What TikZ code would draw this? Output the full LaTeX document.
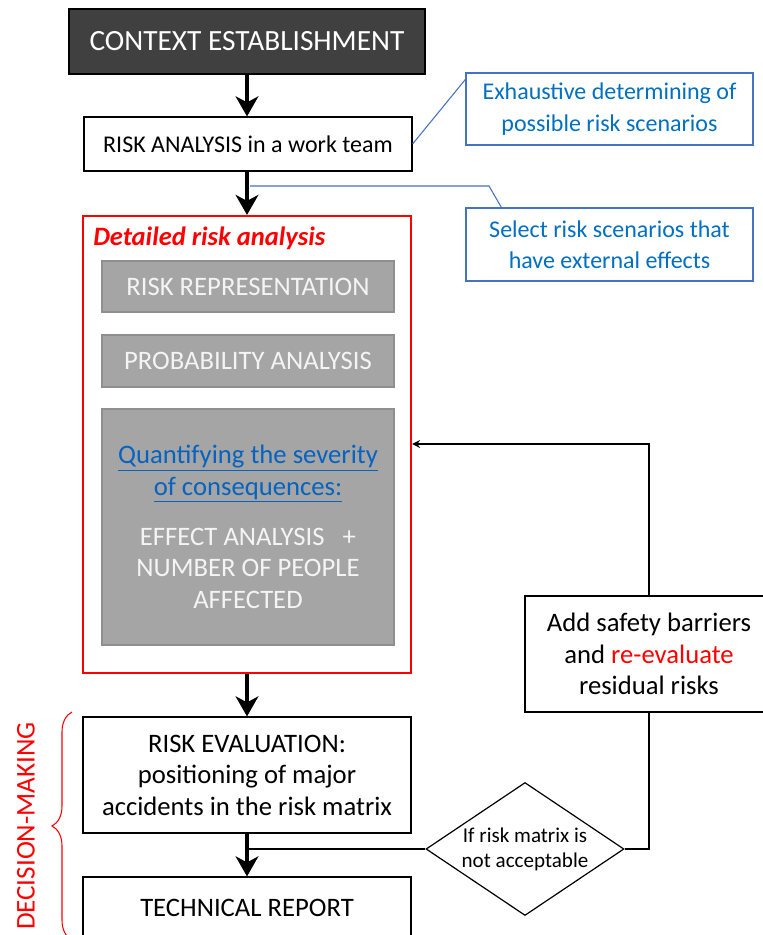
\documentclass[tikz,border=0pt]{standalone}
\usepackage{fontspec}
\setmainfont{Carlito}
\usetikzlibrary{arrows.meta,shapes.geometric,decorations.pathreplacing,calc}
\definecolor{ctxgray}{HTML}{404040}
\definecolor{boxgray}{HTML}{A5A5A5}
\definecolor{boxgrayline}{HTML}{8F8F8F}
\definecolor{graytext}{HTML}{F4F4F4}
\definecolor{calloutblue}{HTML}{0070C0}
\definecolor{calloutline}{HTML}{4472C4}
\definecolor{linkblue}{HTML}{0563C1}
\definecolor{redline}{HTML}{FF0000}
\tikzset{
  base/.style={inner sep=0pt, align=center, font=\fontsize{20}{23.6}\selectfont},
  small/.style={font=\fontsize{18}{23.5}\selectfont},
  ctxbox/.style={base, draw=black, line width=0.9pt, fill=ctxgray, text=white, font=\fontsize{22}{26}\selectfont},
  whitebox/.style={base, draw=black, line width=0.9pt, fill=white},
  graybox/.style={base, draw=boxgrayline, line width=1pt, fill=boxgray, text=graytext},
  redbox/.style={draw=redline, line width=1.6pt, inner sep=0pt},
  callout/.style={base, small, draw=calloutline, line width=0.9pt, text=calloutblue},
  decision/.style={diamond, inner sep=0pt, draw=black, line width=0.9pt, fill=white},
  dectext/.style={base, font=\fontsize{15.8}{18.75}\selectfont},
  bigarrow/.style={line width=3pt, -{Stealth[length=15pt,width=17pt,inset=4.5pt]}},
  conn/.style={line width=1.6pt},
  fbarrow/.style={line width=1.6pt, -{Stealth[length=6pt,width=6pt]}},
  blueline/.style={draw=calloutline, line width=0.8pt},
}
\begin{document}
\begin{tikzpicture}[x=0.75pt,y=-0.75pt]
\useasboundingbox (0,0) rectangle (763,935);
\fill[white] (0,0) rectangle (763,935);

\node[ctxbox, minimum width=356*0.75pt, minimum height=65*0.75pt] (ctx) at (247,41.5) {CONTEXT ESTABLISHMENT};
\node[whitebox, small, minimum width=328*0.75pt, minimum height=54*0.75pt] (ra) at (248,144) {RISK ANALYSIS in a work team};
\node[redbox, minimum width=328*0.75pt, minimum height=457*0.75pt] (det) at (247,444.5) {};
\node[base, anchor=west, text=redline, font=\fontsize{19.9}{23.6}\selectfont\bfseries\itshape] (dettitle) at (93,238) {Detailed risk analysis};
\node[graybox, minimum width=292*0.75pt, minimum height=51*0.75pt] (rep) at (248,286.5) {RISK REPRESENTATION};
\node[graybox, minimum width=292*0.75pt, minimum height=52*0.75pt] (prob) at (248,361) {PROBABILITY ANALYSIS};
\node[graybox, minimum width=292*0.75pt, minimum height=236*0.75pt] (quant) at (248,527) {\textcolor{linkblue}{\underline{Quantifying the severity}}\\\textcolor{linkblue}{\underline{of consequences:}}\\[14pt]EFFECT ANALYSIS\ \ \ +\\NUMBER OF PEOPLE\\AFFECTED};

\node[whitebox, minimum width=328*0.75pt, minimum height=116*0.75pt] (eval) at (247,775) {RISK EVALUATION:\\positioning of major\\accidents in the risk matrix};
\node[whitebox, minimum width=328*0.75pt, minimum height=62*0.75pt] (tech) at (247,908) {TECHNICAL REPORT};
\draw[line width=0.9pt] (tech.south west) -- ++(0,40) (tech.south east) -- ++(0,40);

\node[decision, minimum width=198*0.75pt, minimum height=133*0.75pt] (dec) at (525,849) {};
\node[dectext] (dect) at (dec.center) {If risk matrix is\\not acceptable};
\node[whitebox, minimum width=248*0.75pt, minimum height=116*0.75pt] (add) at (649,654) {Add safety barriers\\and \textcolor{redline}{re-evaluate}\\residual risks};

\node[callout, minimum width=287*0.75pt, minimum height=72*0.75pt] (c1) at (609.5,109) {Exhaustive determining of\\possible risk scenarios};
\node[callout, minimum width=287*0.75pt, minimum height=73*0.75pt] (c2) at (609.5,244.5) {Select risk scenarios that\\have external effects};

% main flow arrows
\draw[bigarrow] (ctx.south) -- (ctx.south |- ra.north);
\draw[bigarrow] (ctx.south |- ra.south) -- (det.north);
\draw[bigarrow] (det.south) -- (eval.north);
\draw[bigarrow] (eval.south) -- (tech.north);

% decision loop
\coordinate (j) at (eval.south |- dec.west);
\draw[conn] (j) -- (dec.west);
\draw[conn] (dec.east) -| (add.south);
\coordinate (fb) at (add.north |- 0,444);
\draw[fbarrow] (add.north) -- (fb) -- (fb -| det.east);

% callout connectors
\draw[blueline] (ra.east) -- ($(c1.north west)+(0,7)$);
\coordinate (c2s) at (250,186);
\coordinate (c2k) at (489,186);
\draw[blueline] (c2s) -- (c2k) -- ($(c2.north west)+(36,0)$);

% decision-making brace
\draw[redline, line width=0.8pt, decorate, decoration={brace, amplitude=15pt}] (72,940) -- (72,712);
\node[rotate=90, text=redline, font=\fontsize{20.3}{24}\selectfont, inner sep=0pt] (dm) at (26,826) {DECISION-MAKING};
\end{tikzpicture}
\end{document}
